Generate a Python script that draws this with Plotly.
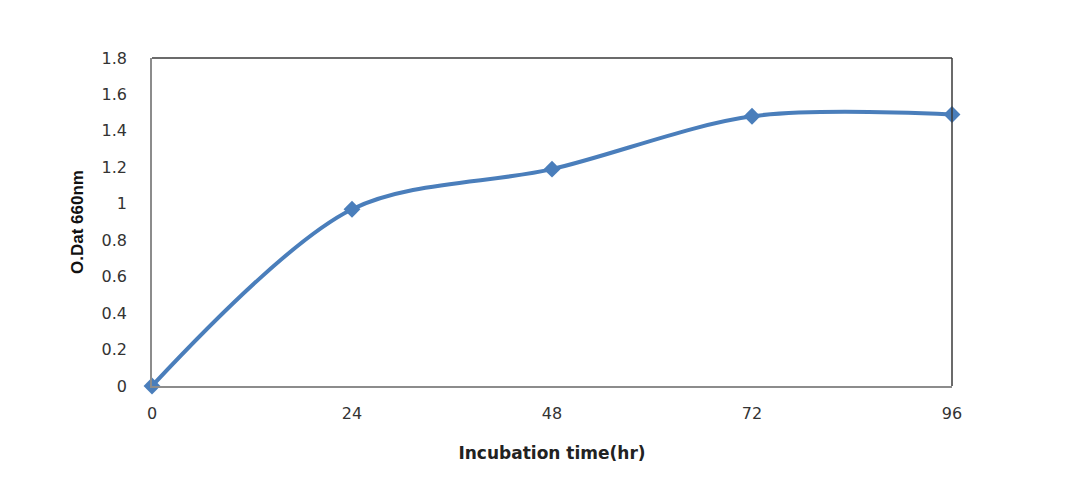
import plotly.graph_objects as go

# incubation time (hr) vs optical density at 660 nm
hours = [0, 24, 48, 72, 96]
od_660 = [0.0, 0.97, 1.19, 1.48, 1.49]
x_ticks = [0, 24, 48, 72, 96]
y_ticks = [0, 0.2, 0.4, 0.6, 0.8, 1.0, 1.2, 1.4, 1.6, 1.8]
y_labels = ["0", "0.2", "0.4", "0.6", "0.8", "1", "1.2", "1.4", "1.6", "1.8"]

blue = "#4a7ebb"

fig = go.Figure()
fig.add_trace(
    go.Scatter(
        x=hours,
        y=od_660,
        mode="lines+markers",
        line=dict(color=blue, width=4, shape="spline", smoothing=0.9),
        marker=dict(symbol="diamond", size=13, color=blue),
        cliponaxis=False,
        showlegend=False,
    )
)

# darker top/right border of the plot box
fig.add_shape(type="line", xref="paper", yref="paper", x0=0, x1=1, y0=1, y1=1,
              line=dict(color="#3a3a3a", width=1.5))
fig.add_shape(type="line", xref="paper", yref="paper", x0=1, x1=1, y0=0, y1=1,
              line=dict(color="#3a3a3a", width=1.5))

fig.update_layout(
    width=1088,
    height=495,
    margin=dict(l=144, r=144, t=50, b=117),
    paper_bgcolor="white",
    plot_bgcolor="white",
    font=dict(family="DejaVu Sans", size=16, color="#333333"),
    xaxis=dict(
        range=[0, 96],
        tickvals=x_ticks,
        ticktext=[str(t) for t in x_ticks],
        showgrid=False,
        zeroline=False,
        showline=True,
        linecolor="#8c8c8c",
        linewidth=1.5,
        ticks="",
        ticklabelstandoff=12,
        title=dict(text="<b>Incubation time(hr)</b>", font=dict(family="DejaVu Sans", size=17, color="#222222"), standoff=25),
    ),
    yaxis=dict(
        range=[0, 1.8],
        tickvals=y_ticks,
        ticktext=y_labels,
        showgrid=False,
        zeroline=False,
        showline=True,
        linecolor="#8c8c8c",
        linewidth=1.5,
        ticks="",
        ticklabelstandoff=20,
        title=dict(text="<b>O.Dat 660nm</b>", font=dict(family="Liberation Sans", size=17, color="#111111"), standoff=14),
    ),
)

fig.write_html("out.html")
